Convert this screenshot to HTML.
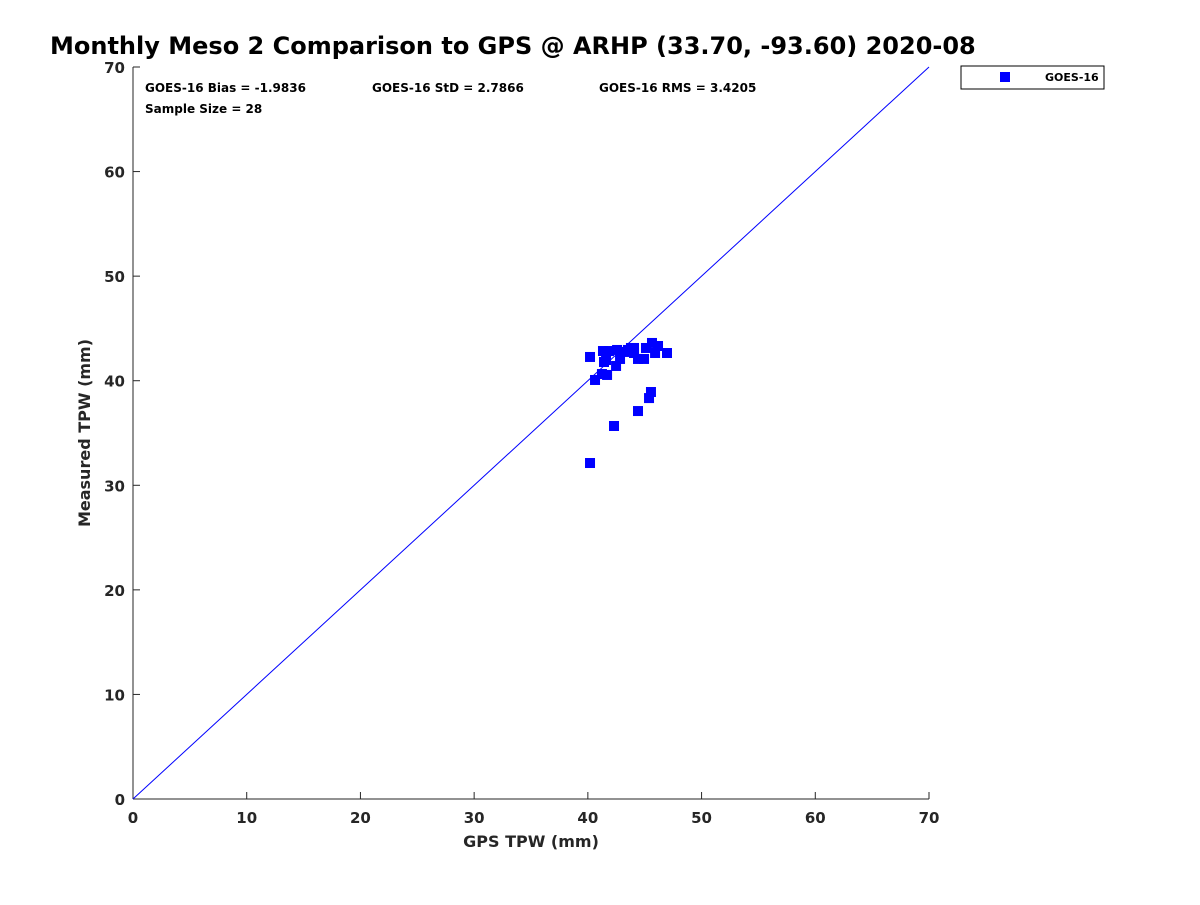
<!DOCTYPE html>
<html><head><meta charset="utf-8"><style>
body{margin:0;background:#fff;font-family:"Liberation Sans","DejaVu Sans",sans-serif;}
svg text{font-family:"DejaVu Sans","Liberation Sans",sans-serif;font-weight:bold;fill:#262626;}
</style></head><body>
<svg id="chart" width="1200" height="900">
<text x="50" y="54" font-size="24" style="fill:#000">Monthly Meso 2 Comparison to GPS @ ARHP (33.70, -93.60) 2020-08</text>
<g id="axes"></g>
<g id="marks"></g>
<text x="145" y="92" font-size="12" style="fill:#000">GOES-16 Bias = -1.9836</text>
<text x="372" y="92" font-size="12" style="fill:#000">GOES-16 StD = 2.7866</text>
<text x="599" y="92" font-size="12" style="fill:#000">GOES-16 RMS = 3.4205</text>
<text x="145" y="113" font-size="12" style="fill:#000">Sample Size = 28</text>
<text x="531" y="847" font-size="16" text-anchor="middle">GPS TPW (mm)</text>
<text transform="translate(90,433) rotate(-90)" font-size="16" text-anchor="middle">Measured TPW (mm)</text>
<g>
<rect x="961" y="66" width="143" height="23" fill="#fff" stroke="#000" stroke-width="1"/>
<rect x="1000" y="72" width="10" height="10" fill="#0000ff"/>
<text x="1045" y="81" font-size="11" style="fill:#000">GOES-16</text>
</g>
</svg>
<script>
const ticks=[0,10,20,30,40,50,60,70];
const gpsX=[40.19,40.19,40.63,41.24,41.69,41.33,41.42,41.60,41.86,42.30,42.48,42.57,42.83,43.18,43.53,43.79,44.06,44.06,44.41,44.41,44.94,45.11,45.55,45.38,45.64,45.91,46.17,46.96];
const measY=[42.27,32.13,40.07,40.64,40.55,42.84,41.79,41.98,42.84,35.67,41.41,42.94,42.08,42.75,42.94,43.13,43.13,42.65,37.10,42.08,42.08,43.13,38.92,38.34,43.61,42.65,43.32,42.65];
const X0=133,X1=929,Y0=799,Y1=67,MIN=0,MAX=70;
const sx=v=>X0+(v-MIN)/(MAX-MIN)*(X1-X0);
const sy=v=>Y0-(v-MIN)/(MAX-MIN)*(Y0-Y1);
const NS="http://www.w3.org/2000/svg";
const ax=document.getElementById('axes'),mk=document.getElementById('marks');
function mkEl(t,a,p){const e=document.createElementNS(NS,t);for(const k in a)e.setAttribute(k,a[k]);p.appendChild(e);return e;}
let e=mkEl('line',{x1:X0,y1:Y0,x2:X1,y2:Y0,stroke:'#262626'},ax);


e=mkEl('line',{x1:X0,y1:Y0,x2:X0,y2:Y1,stroke:'#262626'},ax);


ticks.forEach(t=>{
 let l=mkEl('line',{x1:sx(t),y1:Y0,x2:sx(t),y2:Y0-7,stroke:'#262626'},ax);
 
 
 let tx=mkEl('text',{x:sx(t),y:Y0+24,'font-size':15,'text-anchor':'middle'},ax);tx.textContent=t;
 
 
 l=mkEl('line',{x1:X0,y1:sy(t),x2:X0+7,y2:sy(t),stroke:'#262626'},ax);
 
 
 tx=mkEl('text',{x:X0-8,y:sy(t)+6,'font-size':15,'text-anchor':'end'},ax);tx.textContent=t;
 
 
});
e=mkEl('line',{x1:sx(0),y1:sy(0),x2:sx(70),y2:sy(70),stroke:'#0000ff','stroke-width':1},mk);


gpsX.forEach((x,i)=>{
 const r=mkEl('rect',{x:sx(x)-5,y:sy(measY[i])-5,width:10,height:10,fill:'#0000ff'},mk);
 
 
});
</script>
</body></html>
